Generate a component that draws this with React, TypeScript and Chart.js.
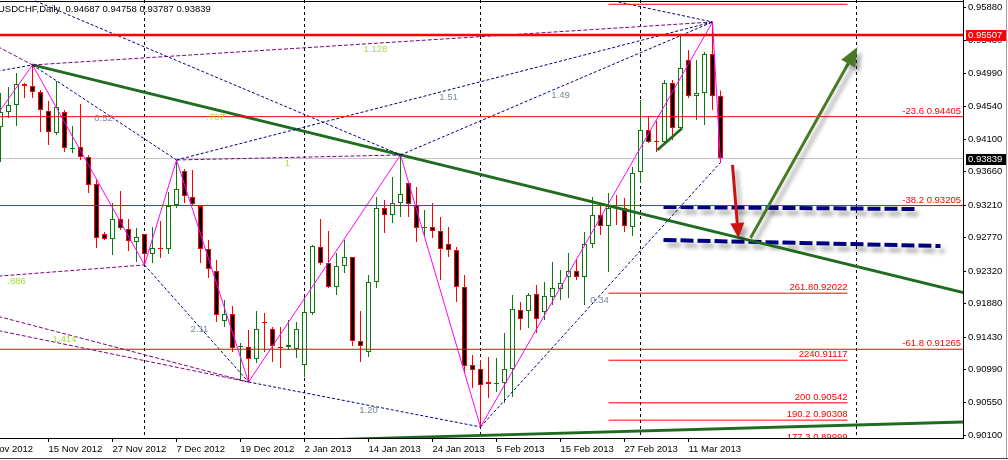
import React, { useEffect, useRef } from 'react';
import { Chart, registerables } from 'chart.js';

Chart.register(...registerables);

// ---------------- data ----------------
const SYMBOL = 'USDCHF,Daily';
const FIRST_INDEX = -6; // bar index of first candle (index 0 = 15 Nov 2012)

const opens = [
  0.94266, 0.94468, 0.94563, 0.94846, 0.94819, 0.94738, 0.94482, 0.94185, 0.94468, 0.93969,
  0.93996, 0.93861, 0.93496, 0.92821, 0.92754, 0.93024, 0.92889, 0.92713, 0.92821, 0.92551,
  0.92632, 0.92619, 0.93213, 0.93672, 0.93321, 0.93199, 0.92619, 0.92322, 0.91647, 0.91741,
  0.91296, 0.91296, 0.91134, 0.91633, 0.91539, 0.91296, 0.91296, 0.91269, 0.91053, 0.91755,
  0.92646, 0.92430, 0.92106, 0.92389, 0.92511, 0.91377, 0.91228, 0.92173, 0.93172, 0.93078,
  0.93240, 0.93510, 0.93213, 0.92902, 0.92916, 0.92862, 0.92686, 0.92605, 0.92106, 0.91053,
  0.90999, 0.90823, 0.90796, 0.90810, 0.90999, 0.91795, 0.91782, 0.92011, 0.91768, 0.91971,
  0.92079, 0.92241, 0.92322, 0.92241, 0.92686, 0.93078, 0.92929, 0.93186, 0.93172, 0.92916,
  0.93658, 0.94225, 0.94077, 0.94063, 0.94860, 0.94252, 0.95170, 0.94684, 0.94725, 0.95251,
  0.94687,
];
const highs = [
  0.94725, 0.94806, 0.94995, 0.94860, 0.95103, 0.94765, 0.94617, 0.94887, 0.94495, 0.94279,
  0.94576, 0.93888, 0.93564, 0.92848, 0.93240, 0.93402, 0.93024, 0.92902, 0.92821, 0.92916,
  0.92997, 0.93388, 0.93820, 0.93699, 0.93685, 0.93213, 0.92740, 0.92470, 0.91930, 0.91849,
  0.91350, 0.91525, 0.91782, 0.91755, 0.91566, 0.91566, 0.91660, 0.91633, 0.91971, 0.92673,
  0.93024, 0.92862, 0.92565, 0.92740, 0.92511, 0.91782, 0.92268, 0.93321, 0.93280, 0.93591,
  0.93888, 0.93510, 0.93456, 0.93145, 0.93240, 0.93051, 0.92916, 0.92646, 0.92268, 0.91188,
  0.91120, 0.91161, 0.91147, 0.91485, 0.91998, 0.91903, 0.92025, 0.92133, 0.92173, 0.92443,
  0.92335, 0.92565, 0.92470, 0.92848, 0.93321, 0.93240, 0.93375, 0.93348, 0.93307, 0.93726,
  0.94630, 0.94401, 0.94347, 0.94900, 0.94900, 0.95508, 0.95305, 0.95170, 0.95278, 0.95683,
  0.94758,
];
const lows = [
  0.93793, 0.94387, 0.94279, 0.94657, 0.94657, 0.94198, 0.94023, 0.94158, 0.93928, 0.93915,
  0.93820, 0.93375, 0.92632, 0.92740, 0.92538, 0.92875, 0.92592, 0.92443, 0.92403, 0.92430,
  0.92497, 0.92551, 0.93172, 0.93240, 0.93213, 0.92430, 0.92227, 0.91633, 0.91566, 0.91228,
  0.90850, 0.90823, 0.91080, 0.91228, 0.91093, 0.91012, 0.91255, 0.91147, 0.90891, 0.91728,
  0.92403, 0.92092, 0.91998, 0.92295, 0.91309, 0.91093, 0.91161, 0.92092, 0.92835, 0.92970,
  0.93051, 0.93051, 0.92713, 0.92781, 0.92767, 0.92200, 0.92511, 0.91903, 0.90958, 0.90742,
  0.90216, 0.90607, 0.90688, 0.90540, 0.90621, 0.91525, 0.91552, 0.91485, 0.91660, 0.91863,
  0.91930, 0.91957, 0.92200, 0.91863, 0.92632, 0.92808, 0.92308, 0.92943, 0.92848, 0.92794,
  0.93510, 0.94050, 0.93928, 0.94063, 0.94090, 0.94225, 0.94657, 0.94360, 0.94293, 0.94495,
  0.93787,
];
const closes = [
  0.94468, 0.94563, 0.94846, 0.94819, 0.94738, 0.94495, 0.94198, 0.94536, 0.93982, 0.93982,
  0.93861, 0.93483, 0.92767, 0.92754, 0.93024, 0.92902, 0.92727, 0.92781, 0.92551, 0.92632,
  0.92619, 0.93199, 0.93429, 0.93334, 0.93226, 0.92619, 0.92349, 0.91728, 0.91741, 0.91282,
  0.91309, 0.91134, 0.91539, 0.91620, 0.91309, 0.91282, 0.91323, 0.91539, 0.91768, 0.92659,
  0.92430, 0.92106, 0.92389, 0.92511, 0.91377, 0.91309, 0.92173, 0.93172, 0.93078, 0.93240,
  0.93361, 0.93226, 0.92902, 0.92916, 0.92862, 0.92619, 0.92605, 0.92106, 0.91039, 0.90985,
  0.90783, 0.90796, 0.90810, 0.90999, 0.91809, 0.91674, 0.91998, 0.91674, 0.91984, 0.92092,
  0.92160, 0.92322, 0.92241, 0.92686, 0.93078, 0.92929, 0.93172, 0.93172, 0.92929, 0.93645,
  0.94225, 0.94063, 0.94063, 0.94860, 0.94252, 0.95062, 0.94684, 0.94725, 0.95251, 0.94684,
  0.93839,
];

const tickIndex = [-8, 0, 8, 16, 24, 32, 40, 48, 56, 64, 72, 80];
const tickDates = [
  '5 Nov 2012', '15 Nov 2012', '27 Nov 2012', '7 Dec 2012', '19 Dec 2012', '2 Jan 2013',
  '14 Jan 2013', '24 Jan 2013', '5 Feb 2013', '15 Feb 2013', '27 Feb 2013', '11 Mar 2013',
];
const priceTicks = [
  0.901, 0.9055, 0.9099, 0.9143, 0.9188, 0.9232, 0.9277, 0.9321, 0.9366, 0.941, 0.9454, 0.9499,
  0.9543, 0.9588,
];
const separatorIndex = [12, 32, 54, 74, 101];

const resistanceLevel = 0.95507;

const fibNames = ['-23.6', '-38.2', '-61.8'];
const fibValues = [0.94405, 0.93205, 0.91265];

const extLabels = ['', '261.80.92022', '2240.91117', '200 0.90542', '190.2 0.90308', '177.3 0.89999'];
const extValues = [0.95922, 0.92022, 0.91117, 0.90542, 0.90308, 0.89999];
const extFrom = 70;
const extTo = 99.875;

const zigIndex = [-7, -2, 12, 16, 25, 44, 54, 83, 84];
const zigPrice = [0.94343, 0.95103, 0.92403, 0.9382, 0.90823, 0.93888, 0.90216, 0.95683, 0.93787];

// [fromIndex, fromPrice, toIndex, toPrice]
const blueDotted = [
  [-1.625, 0.95967, 44, 0.93888],
  [-7, 0.95008, -2, 0.95103],
  [-2, 0.95103, 16, 0.9382],
  [16, 0.9382, 83, 0.95683],
  [44, 0.93888, 83, 0.95683],
  [12, 0.92403, 25, 0.90823],
  [25, 0.90823, 54, 0.90216],
  [54, 0.90216, 84, 0.93787],
  [71.25, 0.95953, 83, 0.95683],
];
const purpleDashed = [
  [-7, 0.95389, -2, 0.95103],
  [-2, 0.95103, 83, 0.95683],
  [16, 0.9382, 44, 0.93888],
  [-7, 0.92246, 12, 0.92403],
  [-7, 0.91729, 25, 0.90823],
  [-7, 0.91533, 25, 0.90823],
];
const greenTrends = [
  [-2, 0.95103, 114.375, 0.92029],
  [30, 0.90029, 114.375, 0.90283],
  [76.1, 0.93955, 79.2, 0.94248],
];
const navyChannel = [
  [76.875, 0.93186, 108.625, 0.93158],
  [76.875, 0.9274, 111.5, 0.92659],
];
const redArrow = [85.5, 0.93753, 86.25, 0.92767];
const greenArrow = [87.75, 0.92767, 101.125, 0.95346];

const ratioLabels = ['0.52', '1.51', '1.49', '2.11', '1.20', '0.34'];
const ratioIndex = [6.875, 50, 64, 18.875, 40, 68.875];
const ratioPrice = [0.94387, 0.94671, 0.94698, 0.91539, 0.90445, 0.9193];

const harmLabels = ['1.128', '.707', '1', '.886', '1.414'];
const harmIndex = [40.875, 20.875, 29.875, -4, 2];
const harmPrice = [0.95319, 0.94401, 0.9378, 0.92187, 0.91404];

// ---------------- styling ----------------
const FONT = "'Liberation Sans', Arial, sans-serif";
const FS = 9.5;
const GREEN = '#0b7a0b';
const RED = '#ff0000';
const X_MIN = -6.0625;
const X_MAX = 114.3125;
const Y_MAX = 0.9598;
const Y_MIN = 0.90067;

function seg(s: number[], color: string, width: number, dash: number[], extra: any = {}) {
  return {
    type: 'line',
    data: [
      { x: s[0], y: s[1] },
      { x: s[2], y: s[3] },
    ],
    borderColor: color,
    borderWidth: width,
    borderDash: dash,
    pointRadius: 0,
    pointHoverRadius: 0,
    fill: false,
    tension: 0,
    order: 0,
    clip: 0,
    ...extra,
  };
}

function drawArrow(ctx: CanvasRenderingContext2D, x1: number, y1: number, x2: number, y2: number, color: string, headLen: number, headHalf: number) {
  const ang = Math.atan2(y2 - y1, x2 - x1);
  const bx = x2 - headLen * Math.cos(ang);
  const by = y2 - headLen * Math.sin(ang);
  ctx.strokeStyle = color;
  ctx.lineWidth = 3;
  ctx.setLineDash([]);
  ctx.beginPath();
  ctx.moveTo(x1, y1);
  ctx.lineTo(bx, by);
  ctx.stroke();
  ctx.fillStyle = color;
  ctx.beginPath();
  ctx.moveTo(x2, y2);
  ctx.lineTo(bx + headHalf * Math.sin(ang), by - headHalf * Math.cos(ang));
  ctx.lineTo(bx - headHalf * Math.sin(ang), by + headHalf * Math.cos(ang));
  ctx.closePath();
  ctx.fill();
}

function setShadow(ctx: CanvasRenderingContext2D) {
  ctx.shadowColor = 'rgba(0,0,0,0.35)';
  ctx.shadowBlur = 4;
  ctx.shadowOffsetX = 4;
  ctx.shadowOffsetY = 5;
}

const overlayPlugin = {
  id: 'mt4overlay',
  beforeDatasetsDraw(chart: any) {
    const { ctx, chartArea: a, scales } = chart;
    const x = scales.x;
    ctx.save();
    ctx.beginPath();
    ctx.rect(a.left, a.top, a.right - a.left, a.bottom - a.top);
    ctx.clip();
    ctx.strokeStyle = '#000';
    ctx.lineWidth = 1;
    ctx.setLineDash([3, 3]);
    separatorIndex.forEach((i) => {
      const px = Math.floor(x.getPixelForValue(i)) + 0.5;
      ctx.beginPath();
      ctx.moveTo(px, a.top);
      ctx.lineTo(px, a.bottom);
      ctx.stroke();
    });
    ctx.restore();
  },
  beforeDatasetDraw(chart: any, args: any) {
    const ds = chart.data.datasets[args.index];
    if (ds && ds.shadow) {
      chart.ctx.save();
      setShadow(chart.ctx);
    }
  },
  afterDatasetDraw(chart: any, args: any) {
    const ds = chart.data.datasets[args.index];
    if (ds && ds.shadow) chart.ctx.restore();
  },
  afterDatasetsDraw(chart: any) {
    const { ctx, chartArea: a, scales } = chart;
    const x = scales.x;
    const y = scales.y;
    ctx.save();
    ctx.beginPath();
    ctx.rect(a.left, a.top, a.right - a.left, a.bottom - a.top);
    ctx.clip();

    // arrows
    ctx.save();
    setShadow(ctx);
    drawArrow(ctx, x.getPixelForValue(redArrow[0]), y.getPixelForValue(redArrow[1]), x.getPixelForValue(redArrow[2]), y.getPixelForValue(redArrow[3]), '#cc1111', 15, 7);
    drawArrow(ctx, x.getPixelForValue(greenArrow[0]), y.getPixelForValue(greenArrow[1]), x.getPixelForValue(greenArrow[2]), y.getPixelForValue(greenArrow[3]), '#4a7a26', 19, 8);
    ctx.restore();

    ctx.font = `${FS}px ${FONT}`;
    // fibo labels
    ctx.fillStyle = RED;
    ctx.textAlign = 'right';
    ctx.textBaseline = 'alphabetic';
    fibValues.forEach((v, i) => {
      ctx.fillText(`${fibNames[i]} ${v.toFixed(5)}`, a.right - 2, y.getPixelForValue(v) - 3);
    });
    extValues.forEach((v, i) => {
      if (extLabels[i]) ctx.fillText(extLabels[i], x.getPixelForValue(extTo), y.getPixelForValue(v) - 3);
    });
    // ratio labels
    ctx.textAlign = 'center';
    ctx.textBaseline = 'middle';
    ctx.fillStyle = '#778899';
    ratioLabels.forEach((t, i) => ctx.fillText(t, x.getPixelForValue(ratioIndex[i]), y.getPixelForValue(ratioPrice[i])));
    ctx.fillStyle = '#a6e03a';
    harmLabels.forEach((t, i) => ctx.fillText(t, x.getPixelForValue(harmIndex[i]), y.getPixelForValue(harmPrice[i])));
    ctx.restore();
  },
  afterDraw(chart: any) {
    const { ctx, chartArea: a, scales } = chart;
    const y = scales.y;
    ctx.save();
    // top frame
    ctx.fillStyle = '#000';
    ctx.fillRect(0, 1, a.right, 1);
    // window frame
    ctx.fillStyle = '#a0a0a0';
    ctx.fillRect(1006, 0, 1, 459);
    ctx.fillStyle = '#404040';
    ctx.fillRect(0, 458, 1008, 1);

    ctx.font = `${FS}px ${FONT}`;
    ctx.textBaseline = 'middle';
    ctx.textAlign = 'left';
    // title
    const n = closes.length - 1;
    ctx.fillStyle = '#000';
    ctx.fillText(`${SYMBOL}  ${opens[n].toFixed(5)} ${highs[n].toFixed(5)} ${lows[n].toFixed(5)} ${closes[n].toFixed(5)}`, -2, 9);

    // axis price boxes
    const boxes: [number, string][] = [
      [resistanceLevel, RED],
      [closes[n], '#000000'],
    ];
    boxes.forEach(([v, col]) => {
      const py = Math.round(y.getPixelForValue(v));
      ctx.fillStyle = col;
      ctx.fillRect(a.right + 3, py - 5, 40, 11);
      ctx.fillStyle = '#ffffff';
      ctx.fillText(v.toFixed(5), a.right + 5, py + 0.5);
    });
    ctx.restore();
  },
};

export default function App() {
  const ref = useRef<HTMLCanvasElement>(null);

  useEffect(() => {
    document.body.style.margin = '0';
    const canvas = ref.current;
    if (!canvas) return;

    const idx = opens.map((_, i) => FIRST_INDEX + i);
    const up = opens.map((o, i) => closes[i] >= o);

    const bodies = {
      type: 'bar',
      data: idx.map((x, i) => ({ x, y: [opens[i], closes[i]] })),
      backgroundColor: up.map((u) => (u ? '#ffffff' : '#000000')),
      borderColor: up.map((u) => (u ? GREEN : RED)),
      borderWidth: 1,
      borderSkipped: false,
      barThickness: 5,
      grouped: false,
      inflateAmount: 0,
      order: 1,
    };
    const wicks = {
      type: 'bar',
      data: idx.map((x, i) => ({ x, y: [lows[i], highs[i]] })),
      backgroundColor: up.map((u) => (u ? GREEN : RED)),
      borderWidth: 0,
      barThickness: 1,
      grouped: false,
      inflateAmount: 0,
      order: 2,
    };

    const datasets: any[] = [bodies, wicks];
    // bid line
    datasets.push(seg([X_MIN, closes[closes.length - 1], X_MAX, closes[closes.length - 1]], '#c0c0c0', 1, [], { order: 3 }));
    // resistance
    datasets.push(seg([X_MIN, resistanceLevel, X_MAX, resistanceLevel], RED, 2.5, []));
    fibValues.forEach((v) => datasets.push(seg([X_MIN, v, X_MAX, v], RED, 1, [])));
    extValues.forEach((v) => datasets.push(seg([extFrom, v, extTo, v], RED, 1, [])));
    blueDotted.forEach((s) => datasets.push(seg(s, '#000080', 1, [3, 2])));
    purpleDashed.forEach((s) => datasets.push(seg(s, '#800080', 1, [4, 2])));
    greenTrends.forEach((s) => datasets.push(seg(s, '#1f6b1f', 2.8, [])));
    navyChannel.forEach((s) => datasets.push(seg(s, '#000080', 4, [13, 4], { shadow: true })));
    datasets.push({
      type: 'line',
      data: zigIndex.map((x, i) => ({ x, y: zigPrice[i] })),
      borderColor: '#ff00ff',
      borderWidth: 1,
      pointRadius: 0,
      pointHoverRadius: 0,
      fill: false,
      tension: 0,
      order: 0,
      clip: 0,
    });

    const chart = new Chart(canvas, {
      type: 'bar',
      data: { datasets },
      options: {
        animation: false,
        responsive: false,
        devicePixelRatio: 1,
        events: [],
        layout: { padding: 0 },
        plugins: {
          legend: { display: false },
          tooltip: { enabled: false },
        },
        scales: {
          x: {
            type: 'linear',
            min: X_MIN,
            max: X_MAX,
            offset: false,
            afterBuildTicks: (s: any) => {
              s.ticks = tickIndex.map((v) => ({ value: v }));
            },
            afterFit: (s: any) => {
              s.height = 22;
              s.paddingLeft = 0;
              s.paddingRight = 0;
            },
            grid: { drawOnChartArea: false, drawTicks: true, tickLength: 4, color: '#000', offset: false },
            border: { display: true, color: '#000' },
            ticks: {
              callback: (v: any) => {
                const k = tickIndex.indexOf(Number(v));
                return k >= 0 ? tickDates[k] : '';
              },
              align: 'start',
              maxRotation: 0,
              minRotation: 0,
              autoSkip: false,
              padding: 2,
              color: '#000',
              font: { family: FONT, size: FS },
            },
          },
          y: {
            type: 'linear',
            position: 'right',
            min: Y_MIN,
            max: Y_MAX,
            afterBuildTicks: (s: any) => {
              s.ticks = priceTicks.map((v) => ({ value: v }));
            },
            afterFit: (s: any) => {
              s.width = 45;
              s.paddingTop = 0;
              s.paddingBottom = 0;
            },
            grid: { drawOnChartArea: false, drawTicks: true, tickLength: 3, color: '#000' },
            border: { display: true, color: '#000' },
            ticks: {
              callback: (v: any) => Number(v).toFixed(5),
              autoSkip: false,
              padding: 2,
              color: '#000',
              font: { family: FONT, size: FS },
            },
          },
        },
      } as any,
      plugins: [overlayPlugin],
    } as any);

    return () => chart.destroy();
  }, []);

  return (
    <div style={{ width: 1008, height: 460 }}>
      <canvas ref={ref} width={1008} height={460} style={{ display: 'block' }} />
    </div>
  );
}
